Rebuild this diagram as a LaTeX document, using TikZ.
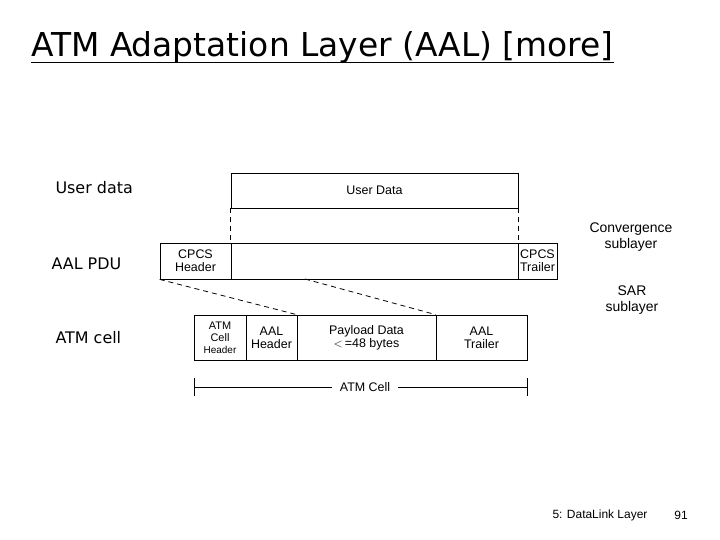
\documentclass[tikz,border=0pt]{standalone}
\usepackage{fontspec}
\setmainfont{Liberation Sans}
\newfontfamily\titlefont{DejaVu Sans}
\begin{document}
\begin{tikzpicture}[x=1bp,y=-1bp,
  fld/.style={rectangle, draw, thick, inner sep=0pt, align=center, font=\fontsize{12.5}{13}\selectfont},
  lbl/.style={anchor=west, font=\titlefont\fontsize{16}{18}\selectfont},
  side/.style={align=center, font=\fontsize{14}{16}\selectfont},
  seg/.style={dash pattern=on 5bp off 4bp, thick},
]
\useasboundingbox (0,0) rectangle (720,540);

% title
\node[anchor=west, inner sep=0pt, font=\titlefont\fontsize{33}{36}\selectfont] (title) at (31,47)
  {ATM Adaptation Layer (AAL) [more]};
\draw ([yshift=-6bp]title.base west) -- ([yshift=-6bp]title.base east);

% left labels
\node[lbl] (lud) at (52,188) {User data};
\node[lbl] (lpdu) at (48,264) {AAL PDU};
\node[lbl] (lcell) at (52,338) {ATM cell};

% user data
\node[fld, minimum width=287bp, minimum height=35bp] (ud) at (374.5,190.5) {User Data};

% AAL PDU
\node[fld, minimum width=71bp, minimum height=36bp] (hdr) at (195.5,261) {CPCS\\Header};
\node[fld, minimum width=287bp, minimum height=36bp] (pdu) at (374.5,261) {};
\node[fld, minimum width=39bp, minimum height=36bp] (trl) at (537.5,261) {CPCS\\Trailer};

\draw[seg] (ud.south west) -- (pdu.north west);
\draw[seg] (ud.south east) -- (pdu.north east);

% ATM cell
\node[fld, minimum width=52bp, minimum height=45bp, font=\fontsize{11}{12}\selectfont] (ch) at (220,337.5) {ATM\\Cell\\{\fontsize{10}{11}\selectfont Header}};
\node[fld, minimum width=51bp, minimum height=45bp] (ah) at (271.5,337.5) {AAL\\Header};
\node[fld, minimum width=139bp, minimum height=45bp] (pay) at (366.5,337.5) {Payload Data\\$<$\,=48 bytes};
\node[fld, minimum width=91bp, minimum height=45bp] (at) at (481.5,337.5) {AAL\\Trailer};

\draw[seg] (hdr.south west) -- (pay.north west);
\coordinate (pmid) at (305,279);
\draw[seg] (pmid) -- (at.north west);

% ATM Cell span
\coordinate (sl) at (194,387);
\coordinate (sr) at (527,387);
\node[font=\fontsize{12.5}{13}\selectfont, fill=white, inner xsep=8bp] (span) at (365,387) {ATM Cell};
\draw[thick] (sl) -- (span.west) (span.east) -- (sr);
\draw[thick] (194,378) -- (194,396) (527,378) -- (527,396);

% sublayers
\node[side] (conv) at (631,237) {Convergence\\sublayer};
\node[side] (sar) at (632,300) {SAR\\sublayer};

% footer
\node[font=\fontsize{12}{13}\selectfont] (foot) at (600,515) {5: DataLink Layer};
\node[font=\fontsize{12}{13}\selectfont] (page) at (681,515) {91};
\end{tikzpicture}
\end{document}
